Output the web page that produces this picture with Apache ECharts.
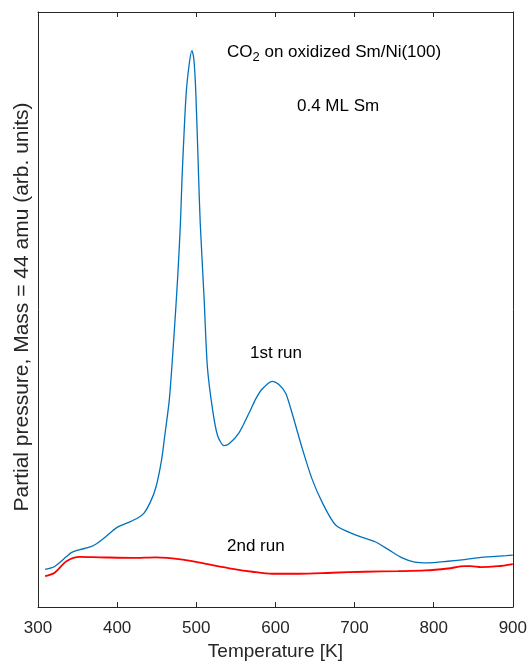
<!DOCTYPE html>
<html>
<head>
<meta charset="utf-8">
<script src="https://cdn.jsdelivr.net/npm/echarts@6/dist/echarts.min.js"></script>
<style>
  html, body { margin: 0; padding: 0; background: #fff; }
  #chart { width: 530px; height: 666px; }
</style>
</head>
<body>
<div id="chart"></div>
<script>
// temperature [K] and signal (arb. units)
var run1T = [309, 321, 336, 342, 353, 367, 374, 384, 399, 413, 426, 434, 442, 449, 456, 460, 466, 472, 476.5, 480, 482, 487, 491, 494.5, 497, 499.6, 503, 505, 510, 514, 520.5, 527, 535, 541.5, 554, 566.7, 575, 583, 596, 604, 613, 621, 634, 646, 659, 676, 701, 726, 743, 759.5, 776, 793, 818, 839, 860, 891.5, 900];
var run1V = [38, 41, 51, 55, 58, 61, 64, 70, 80, 85, 90, 95, 106, 121, 148, 172, 210, 276, 333, 388, 433, 516, 548, 562, 553, 516, 433, 388, 310, 243, 200, 173, 163, 165, 176, 196, 210, 220, 228, 225, 216, 196, 160, 130, 106, 83, 73, 66, 58, 50, 45.5, 44.7, 46.3, 48, 50.3, 52, 52.5];

var run2T = [309, 321, 336, 353, 378, 420, 449, 483, 512, 546, 571, 596, 630, 671.5, 713, 755, 789, 818, 839, 847, 860, 881, 900];
var run2V = [31.3, 34.7, 46.3, 50.7, 50.3, 49.7, 50.3, 48, 43.7, 38.7, 35.7, 33.7, 33.7, 34.7, 35.7, 36.3, 37, 39, 41.3, 41.3, 40.3, 41.3, 43.5];

var xTicks = [300, 400, 500, 600, 700, 800, 900];

function pairs(xs, ys) {
  var out = [];
  for (var i = 0; i < xs.length; i++) {
    out.push([xs[i], ys[i]]);
  }
  return out;
}

var chart = echarts.init(document.getElementById("chart"));
var axisCol = "#262626";
var font = "Liberation Sans, Arial, sans-serif";

var option = {
  backgroundColor: "#fff",
  animation: false,
  grid: { left: 38, right: 15, top: 12, bottom: 53 },
  xAxis: [
    {
      type: "value",
      min: xTicks[0],
      max: xTicks[xTicks.length - 1],
      interval: 100,
      name: "Temperature [K]",
      nameLocation: "middle",
      nameGap: 34,
      nameTextStyle: { color: axisCol, fontSize: 19, fontFamily: font },
      axisLine: { onZero: false, lineStyle: { color: axisCol, width: 1 } },
      axisTick: { inside: true, length: 5, lineStyle: { color: axisCol } },
      axisLabel: { color: axisCol, fontSize: 17, fontFamily: font, margin: 13 },
      splitLine: { show: false }
    },
    {
      type: "value",
      position: "top",
      min: 300,
      max: 900,
      interval: 100,
      axisLine: { show: true, onZero: false, lineStyle: { color: axisCol, width: 1 } },
      axisTick: { inside: true, length: 5, lineStyle: { color: axisCol } },
      axisLabel: { show: false },
      splitLine: { show: false }
    }
  ],
  yAxis: [
    {
      type: "value",
      min: 0,
      max: 601,
      axisLine: { show: true, onZero: false, lineStyle: { color: axisCol, width: 1 } },
      axisTick: { show: false },
      axisLabel: { show: false },
      splitLine: { show: false }
    },
    {
      type: "value",
      position: "right",
      min: 0,
      max: 601,
      axisLine: { show: true, onZero: false, lineStyle: { color: axisCol, width: 1 } },
      axisTick: { show: false },
      axisLabel: { show: false },
      splitLine: { show: false }
    }
  ],
  series: [
    {
      name: "1st run",
      type: "line",
      data: pairs(run1T, run1V),
      smooth: 0.25,
      showSymbol: false,
      lineStyle: { color: "#0072BD", width: 1.3 }
    },
    {
      name: "2nd run",
      type: "line",
      data: pairs(run2T, run2V),
      smooth: 0.3,
      showSymbol: false,
      lineStyle: { color: "#FF0000", width: 1.8 }
    }
  ],
  graphic: [
    // y axis title
    {
      type: "text",
      x: 22,
      y: 307,
      rotation: Math.PI / 2,
      style: {
        text: "Partial pressure, Mass = 44 amu (arb. units)",
        fill: axisCol,
        font: "21px " + font,
        textAlign: "center",
        textVerticalAlign: "middle"
      }
    },
    {
      type: "text",
      left: 227,
      top: 44,
      style: {
        text: "CO{sub|2} on oxidized Sm/Ni(100)",
        fill: "#000",
        font: "17px " + font,
        rich: { sub: { fontSize: 13, fontFamily: font, padding: [10, 0, 0, 0] } }
      }
    },
    { type: "text", left: 297, top: 98, style: { text: "0.4 ML Sm", fill: "#000", font: "17px " + font } },
    { type: "text", left: 250, top: 345, style: { text: "1st run", fill: "#000", font: "17px " + font } },
    { type: "text", left: 227, top: 538, style: { text: "2nd run", fill: "#000", font: "17px " + font } }
  ]
};

chart.setOption(option);
</script>
</body>
</html>
